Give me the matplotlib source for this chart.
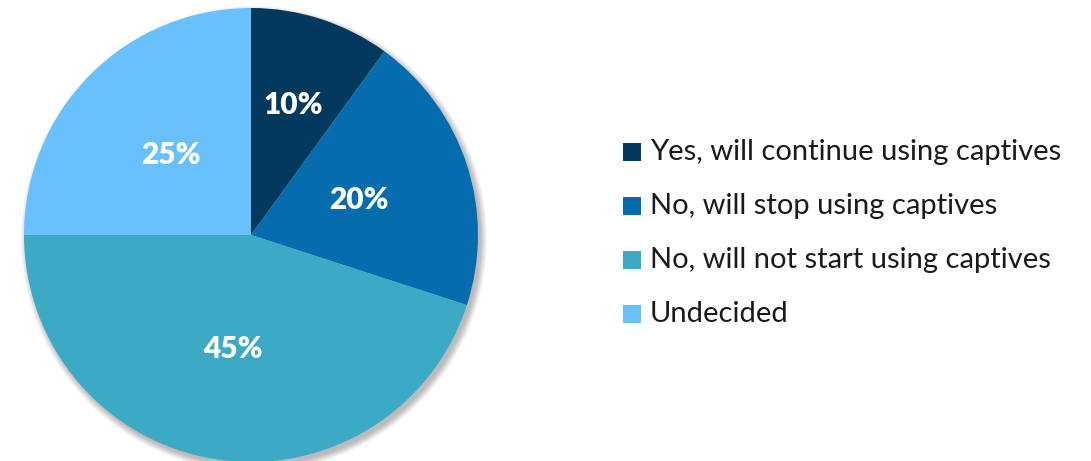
import numpy as np
import matplotlib.pyplot as plt
from matplotlib.patches import Circle

plt.rcParams['font.family'] = ['Lato', 'DejaVu Sans']

labels = ['Yes, will continue using captives', 'No, will stop using captives',
          'No, will not start using captives', 'Undecided']
shares = [10, 20, 45, 25]
colors = ['#03395C', '#056DAE', '#3BAAC4', '#68C1FC']

fig = plt.figure(figsize=(10.91, 4.61), dpi=100)
ax = fig.add_axes([0.0, 0.0, 1.0, 1.0])

cx, cy, r = 251, 235, 227

# soft drop shadow under the pie
for i in range(12):
    ax.add_patch(Circle((cx + 3, cy + 4), r + 6 - i * 0.6, color='black',
                        alpha=0.025, lw=0, zorder=1))

# y axis is flipped, so counterclock=True runs clockwise on screen
wedges, _ = ax.pie(shares, colors=colors, startangle=-90, counterclock=True,
                   radius=r, center=(cx, cy), frame=True,
                   wedgeprops=dict(linewidth=0, zorder=2))
ax.set_xlim(0, 1091)
ax.set_ylim(461, 0)
ax.set_aspect('equal')
ax.axis('off')

label_r = [0.6, 0.5, 0.51, 0.5]
for w, v, lr in zip(wedges, shares, label_r):
    ang = np.deg2rad((w.theta1 + w.theta2) / 2)
    x = cx + lr * r * np.cos(ang)
    y = cy + lr * r * np.sin(ang)
    ax.text(x, y, f'{v}%', color='white', fontsize=21.5, fontweight='heavy',
            ha='center', va='center', zorder=3)

# legend
for i, (lab, col) in enumerate(zip(labels, colors)):
    ly = 152 + i * 54
    ax.add_patch(plt.Rectangle((623, ly - 9), 18, 18, color=col, lw=0))
    ax.text(650, ly, lab, fontsize=21, color='#1a1a1a', ha='left', va='center')

fig.savefig('out.png', dpi=100)
